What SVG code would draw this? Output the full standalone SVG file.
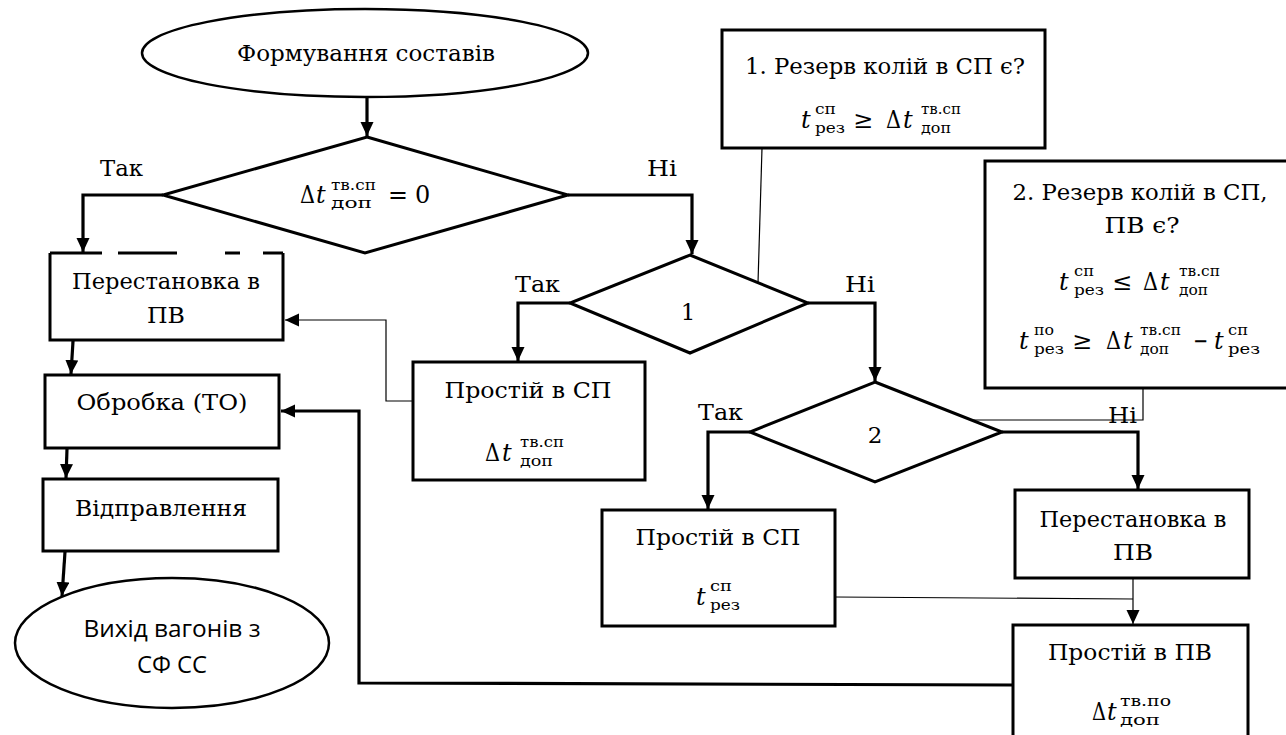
<svg xmlns="http://www.w3.org/2000/svg" width="1286" height="735" viewBox="0 0 1286 735">
<style>
.bg{fill:#fff}
.node{fill:#fff;stroke:#000;stroke-width:3}
.nodeline{fill:none;stroke:#000;stroke-width:3}
.oval{fill:#fff;stroke:#000;stroke-width:2.5}
.thick{fill:none;stroke:#000;stroke-width:3.2}
.thin{fill:none;stroke:#000;stroke-width:1.2}
.t{font-family:'DejaVu Serif','Liberation Serif',serif;font-size:23px;fill:#000}
.c{text-anchor:middle}
.s{font-family:'Open Sans','Noto Sans',sans-serif;font-size:24px;fill:#000;text-anchor:middle}
.m{font-family:'DejaVu Serif','Liberation Serif',serif;font-size:24px;fill:#000}
.mi{font-family:'DejaVu Serif','Liberation Serif',serif;font-size:24px;font-style:italic;fill:#000}
.sc{font-family:'DejaVu Serif','Liberation Serif',serif;font-size:15px;fill:#000}
</style>
<defs>
<marker id="ah" markerUnits="userSpaceOnUse" markerWidth="15" markerHeight="14" refX="14" refY="6.5" orient="auto">
<path d="M0,0 L14,6.5 L0,13 z" fill="#000"/>
</marker>
</defs>
<rect class="bg" x="0" y="0" width="1286" height="735"/>

<g id="connectors">
<path class="thick" d="M367,97 V136" marker-end="url(#ah)"/>
<path class="thick" d="M163,195 H83 V252" marker-end="url(#ah)"/>
<path class="thick" d="M568,195 H692 V254" marker-end="url(#ah)"/>
<path class="thick" d="M73,341 L71,374" marker-end="url(#ah)"/>
<path class="thick" d="M67,449 L66,478" marker-end="url(#ah)"/>
<path class="thick" d="M65,552 L62,596" marker-end="url(#ah)"/>
<path class="thick" d="M570,303 H518 V361" marker-end="url(#ah)"/>
<path class="thick" d="M808,303 H875 V381" marker-end="url(#ah)"/>
<path class="thick" d="M750,432 H708 V509" marker-end="url(#ah)"/>
<path class="thick" d="M1002,432 H1138 V489" marker-end="url(#ah)"/>
<path class="thick" d="M1013,685 L359,683 V411 H281" marker-end="url(#ah)"/>
<path class="thin" d="M762,148 L758,283"/>
<path class="thin" d="M1143,388 V420 H972"/>
<path class="thin" d="M413,401 H386 V320 H285" marker-end="url(#ah)"/>
<path class="thin" d="M835,597 L1133,599"/>
<path class="thin" d="M1133,578 V624" marker-end="url(#ah)"/>
</g>

<g id="n-start">
<ellipse class="oval" cx="365" cy="53" rx="223" ry="44"/>
<text class="t c" x="366" y="61" textLength="258" lengthAdjust="spacingAndGlyphs">Формування составів</text>
</g>

<g id="n-dec0">
<polygon class="node" points="367,137 568,195 365,253 163,195" stroke-width="2.5"/>
<text class="m" x="300" y="203" textLength="15" lengthAdjust="spacingAndGlyphs">Δ</text>
<text class="mi" x="316" y="203">t</text>
<text class="sc" x="331" y="190" textLength="45" lengthAdjust="spacingAndGlyphs">тв.сп</text>
<text class="sc" x="331" y="208" textLength="41" lengthAdjust="spacingAndGlyphs">доп</text>
<text class="m" x="388" y="203" textLength="20" lengthAdjust="spacingAndGlyphs">=</text>
<text class="m" x="415" y="203">0</text>
</g>

<g id="n-note1">
<rect class="node" x="722" y="30" width="323" height="118"/>
<text class="t c" x="885" y="74" textLength="280" lengthAdjust="spacingAndGlyphs">1. Резерв колій в СП є?</text>
<text class="mi" x="801" y="128">t</text>
<text class="sc" x="815" y="114" textLength="21" lengthAdjust="spacingAndGlyphs">сп</text>
<text class="sc" x="815" y="133" textLength="30" lengthAdjust="spacingAndGlyphs">рез</text>
<text class="m" x="853" y="128">≥</text>
<text class="m" x="886" y="128" textLength="15" lengthAdjust="spacingAndGlyphs">Δ</text>
<text class="mi" x="903" y="128">t</text>
<text class="sc" x="921" y="114" textLength="40" lengthAdjust="spacingAndGlyphs">тв.сп</text>
<text class="sc" x="921" y="133" textLength="30" lengthAdjust="spacingAndGlyphs">доп</text>
</g>

<g id="n-note2">
<path class="node" d="M1292,161 H985 V388 H1292"/>
<text class="t c" x="1140" y="200" textLength="255" lengthAdjust="spacingAndGlyphs">2. Резерв колій в СП,</text>
<text class="t c" x="1142" y="233" textLength="75" lengthAdjust="spacingAndGlyphs">ПВ є?</text>
<text class="mi" x="1059" y="290">t</text>
<text class="sc" x="1074" y="276" textLength="20" lengthAdjust="spacingAndGlyphs">сп</text>
<text class="sc" x="1074" y="295" textLength="30" lengthAdjust="spacingAndGlyphs">рез</text>
<text class="m" x="1112" y="290">≤</text>
<text class="m" x="1143" y="290" textLength="15" lengthAdjust="spacingAndGlyphs">Δ</text>
<text class="mi" x="1160" y="290">t</text>
<text class="sc" x="1179" y="276" textLength="41" lengthAdjust="spacingAndGlyphs">тв.сп</text>
<text class="sc" x="1179" y="295" textLength="29" lengthAdjust="spacingAndGlyphs">доп</text>
<text class="mi" x="1019" y="349">t</text>
<text class="sc" x="1034" y="335" textLength="20" lengthAdjust="spacingAndGlyphs">по</text>
<text class="sc" x="1034" y="354" textLength="30" lengthAdjust="spacingAndGlyphs">рез</text>
<text class="m" x="1072" y="349">≥</text>
<text class="m" x="1106" y="349" textLength="15" lengthAdjust="spacingAndGlyphs">Δ</text>
<text class="mi" x="1123" y="349">t</text>
<text class="sc" x="1140" y="335" textLength="41" lengthAdjust="spacingAndGlyphs">тв.сп</text>
<text class="sc" x="1140" y="354" textLength="29" lengthAdjust="spacingAndGlyphs">доп</text>
<text class="m" x="1193" y="349" textLength="15" lengthAdjust="spacingAndGlyphs">−</text>
<text class="mi" x="1214" y="349">t</text>
<text class="sc" x="1228" y="335" textLength="20" lengthAdjust="spacingAndGlyphs">сп</text>
<text class="sc" x="1228" y="354" textLength="32" lengthAdjust="spacingAndGlyphs">рез</text>
</g>

<g id="n-perest-left">
<path class="nodeline" d="M50,253 V340 H283 V253"/>
<path class="nodeline" d="M50,253 H102 M118,253 H177 M225,253 H240 M263,253 H283"/>
<text class="t c" x="166" y="289" textLength="188" lengthAdjust="spacingAndGlyphs">Перестановка в</text>
<text class="t c" x="166" y="323" textLength="38" lengthAdjust="spacingAndGlyphs">ПВ</text>
</g>

<g id="n-obrobka">
<rect class="node" x="45" y="375" width="234" height="73"/>
<text class="t c" x="162" y="410" textLength="171" lengthAdjust="spacingAndGlyphs">Обробка (ТО)</text>
</g>

<g id="n-vidpr">
<rect class="node" x="43" y="479" width="235" height="72"/>
<text class="t c" x="161" y="516" textLength="172" lengthAdjust="spacingAndGlyphs">Відправлення</text>
</g>

<g id="n-exit">
<ellipse class="oval" cx="172" cy="643" rx="157" ry="65"/>
<text class="s" x="172" y="637" textLength="177" lengthAdjust="spacingAndGlyphs">Вихід вагонів з</text>
<text class="s" x="172" y="673" textLength="70" lengthAdjust="spacingAndGlyphs">СФ СС</text>
</g>

<g id="n-dec1">
<polygon class="node" points="690,255 808,303 690,353 570,303" stroke-width="2.5"/>
<text class="t c" x="688" y="320">1</text>
</g>

<g id="n-prostij-sp1">
<rect class="node" x="413" y="362" width="232" height="118"/>
<text class="t c" x="528" y="398" textLength="167" lengthAdjust="spacingAndGlyphs">Простій в СП</text>
<text class="m" x="485" y="461" textLength="15" lengthAdjust="spacingAndGlyphs">Δ</text>
<text class="mi" x="502" y="461">t</text>
<text class="sc" x="520" y="447" textLength="44" lengthAdjust="spacingAndGlyphs">тв.сп</text>
<text class="sc" x="520" y="466" textLength="33" lengthAdjust="spacingAndGlyphs">доп</text>
</g>

<g id="n-dec2">
<polygon class="node" points="875,382 1002,432 875,482 750,432" stroke-width="2.5"/>
<text class="t c" x="875" y="443">2</text>
</g>

<g id="n-prostij-sp2">
<rect class="node" x="602" y="510" width="233" height="116"/>
<text class="t c" x="718" y="545" textLength="165" lengthAdjust="spacingAndGlyphs">Простій в СП</text>
<text class="mi" x="696" y="605">t</text>
<text class="sc" x="710" y="591" textLength="22" lengthAdjust="spacingAndGlyphs">сп</text>
<text class="sc" x="710" y="610" textLength="30" lengthAdjust="spacingAndGlyphs">рез</text>
</g>

<g id="n-perest-right">
<rect class="node" x="1015" y="490" width="234" height="88"/>
<text class="t c" x="1133" y="527" textLength="187" lengthAdjust="spacingAndGlyphs">Перестановка в</text>
<text class="t c" x="1133" y="560" textLength="40" lengthAdjust="spacingAndGlyphs">ПВ</text>
</g>

<g id="n-prostij-pv">
<path class="node" d="M1013,742 V625 H1248 V742"/>
<text class="t c" x="1130" y="660" textLength="164" lengthAdjust="spacingAndGlyphs">Простій в ПВ</text>
<text class="m" x="1092" y="720" textLength="14" lengthAdjust="spacingAndGlyphs">Δ</text>
<text class="mi" x="1107" y="720">t</text>
<text class="sc" x="1120" y="706" textLength="51" lengthAdjust="spacingAndGlyphs">тв.по</text>
<text class="sc" x="1120" y="725" textLength="40" lengthAdjust="spacingAndGlyphs">доп</text>
</g>

<g id="labels">
<text class="t" x="100" y="176" textLength="43" lengthAdjust="spacingAndGlyphs">Так</text>
<text class="t" x="647" y="176" textLength="30" lengthAdjust="spacingAndGlyphs">Ні</text>
<text class="t" x="515" y="292" textLength="45" lengthAdjust="spacingAndGlyphs">Так</text>
<text class="t" x="845" y="292" textLength="30" lengthAdjust="spacingAndGlyphs">Ні</text>
<text class="t" x="698" y="420" textLength="45" lengthAdjust="spacingAndGlyphs">Так</text>
<text class="t" x="1108" y="423" textLength="29" lengthAdjust="spacingAndGlyphs">Ні</text>
</g>
</svg>
